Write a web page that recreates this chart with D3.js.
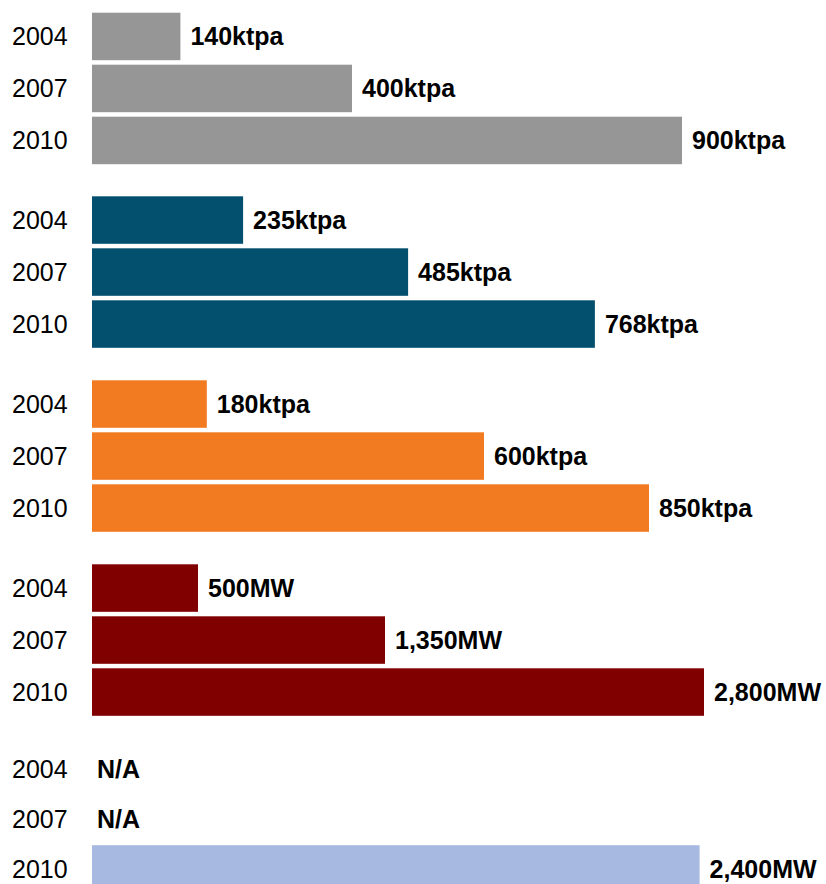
<!DOCTYPE html>
<html>
<head>
<meta charset="utf-8">
<script src="https://cdn.jsdelivr.net/npm/d3@7"></script>
<style>
  html, body { margin: 0; padding: 0; background: #fff; }
  svg { display: block; }
  text { font-family: "Liberation Sans", Arial, sans-serif; font-size: 25px; fill: #000; }
</style>
</head>
<body>
<svg id="chart" width="826" height="884"></svg>
<script>
// ---- data ----
const years = ["2004", "2007", "2010"];
const groupNames = ["A", "B", "C", "D", "E"];
const grayValues = [140, 400, 900];
const tealValues = [235, 485, 768];
const orangeValues = [180, 600, 850];
const redValues = [500, 1350, 2800];
const blueValues = [null, null, 2400];
const units = ["ktpa", "ktpa", "ktpa", "MW", "MW"];
const colors = ["#969696", "#02506E", "#F27B22", "#800000", "#A7B9E1"];
const scaleMax = [1000, 1000, 1000, 3000, 2590];

const groups = [grayValues, tealValues, orangeValues, redValues, blueValues];

// ---- layout ----
const svg = d3.select("#chart");
const barLeft = 92;
const xRange = [88, 748];
const groupTops = [12.7, 196.3, 380.3, 564.3, 744.8];
const groupSteps = [52, 52, 52, 52, 50.2];
const barH = 47.5;

const fmt = d3.format(",");

groups.forEach((vals, gi) => {
  const x = d3.scaleLinear().domain([0, scaleMax[gi]]).range(xRange);
  const step = groupSteps[gi];
  const y = d3.scaleBand()
    .domain(years)
    .range([groupTops[gi], groupTops[gi] + 2 * step + barH])
    .paddingInner(1 - barH / step)
    .paddingOuter(0);

  const g = svg.append("g").attr("class", "group-" + groupNames[gi]);
  const rows = years.map((yr, i) => ({ year: yr, value: vals[i] }));

  g.selectAll("rect")
    .data(rows.filter(d => d.value != null))
    .join("rect")
    .attr("x", barLeft)
    .attr("y", d => y(d.year))
    .attr("width", d => x(d.value) - barLeft)
    .attr("height", y.bandwidth())
    .attr("fill", colors[gi]);

  g.selectAll("text.year")
    .data(rows)
    .join("text")
    .attr("class", "year")
    .attr("x", 12)
    .attr("y", d => y(d.year) + y.bandwidth() / 2)
    .attr("dy", "0.36em")
    .text(d => d.year);

  g.selectAll("text.val")
    .data(rows)
    .join("text")
    .attr("class", "val")
    .attr("x", d => d.value == null ? barLeft + 5 : x(d.value) + 10)
    .attr("y", d => y(d.year) + y.bandwidth() / 2)
    .attr("dy", "0.36em")
    .style("font-weight", "bold")
    .text(d => d.value == null ? "N/A" : fmt(d.value) + units[gi]);
});
</script>
</body>
</html>
